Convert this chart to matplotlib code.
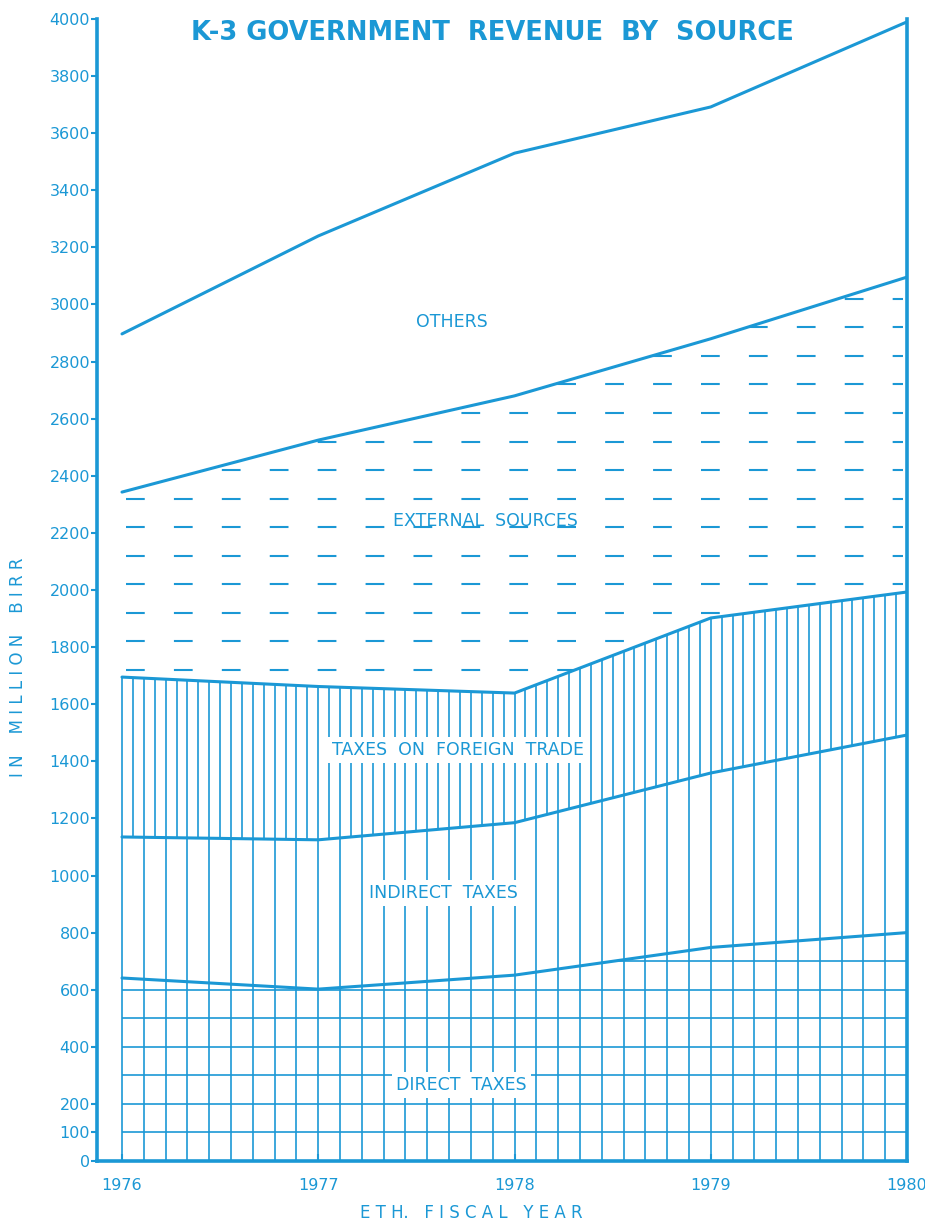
import matplotlib
matplotlib.use("Agg")
import matplotlib.pyplot as plt
from matplotlib.patches import PathPatch
import numpy as np

# data (million birr)
years    = [1976, 1977, 1978, 1979, 1980]
direct   = [641, 602, 651, 748, 800]
indirect = [494, 523, 534, 611, 692]
foreign  = [560, 537, 454, 543, 501]
external = [648, 863, 1041, 978, 1103]
others   = [554, 715, 850, 812, 894]

yticks = [0, 100, 200, 400, 600, 800, 1000, 1200, 1400, 1600, 1800, 2000,
          2200, 2400, 2600, 2800, 3000, 3200, 3400, 3600, 3800, 4000]

BLUE = "#1b98d5"
plt.rcParams.update({
    "font.family": "DejaVu Sans",
    "text.color": BLUE,
    "axes.edgecolor": BLUE,
    "xtick.color": BLUE,
    "ytick.color": BLUE,
})

tops = np.cumsum([direct, indirect, foreign, external, others], axis=0)
direct_top, indirect_top, foreign_top, external_top, others_top = tops

fig = plt.figure(figsize=(9.25, 12.26), dpi=100)
ax = fig.add_axes([97 / 925, 1 - 1161 / 1226, 810 / 925, 1142 / 1226])
ax.set_xlim(1976 - 25 / 196.25, 1980)
ax.set_ylim(0, 4000)

def band_patch(lower, upper):
    poly = ax.fill_between(years, lower, upper, facecolor="none", edgecolor="none")
    patch = PathPatch(poly.get_paths()[0], transform=ax.transData,
                      facecolor="none", edgecolor="none")
    ax.add_patch(patch)
    return patch

zero = np.zeros(len(years))
direct_clip = band_patch(zero, direct_top)
external_clip = band_patch(foreign_top, external_top)

# vertical hatching: from 0 up to top of foreign trade band
xs = np.linspace(1976, 1980, 37)
ax.vlines(xs, 0, np.interp(xs, years, foreign_top), color=BLUE, lw=1.2, zorder=2)
# extra verticals only in foreign trade band
xm = (xs[:-1] + xs[1:]) / 2
ax.vlines(xm, np.interp(xm, years, indirect_top), np.interp(xm, years, foreign_top),
          color=BLUE, lw=1.2, zorder=2)

# horizontal grid inside direct taxes
h = ax.hlines(np.arange(100, 800, 100), 1976, 1980, color=BLUE, lw=1.2, zorder=2)
h.set_clip_path(direct_clip)

# dashed rows inside external sources
d = ax.hlines(np.arange(1720, 3100, 100), 1976.02, 1979.98, color=BLUE, lw=1.5,
              linestyles=(0, (9, 14)), zorder=2)
d.set_clip_path(external_clip)

for top in tops:
    ax.plot(years, top, color=BLUE, lw=2.2, zorder=3, solid_capstyle="round")

for s in ["left", "bottom", "right"]:
    ax.spines[s].set_linewidth(2.6)
ax.spines["top"].set_visible(False)

ax.set_yticks(yticks)
ax.set_xticks(years)
ax.tick_params(axis="y", direction="out", length=4, width=1.5, pad=1, labelsize=11.5)
ax.tick_params(axis="x", direction="in", length=5, width=1.5, pad=12, labelsize=11.5)

lbl = dict(color=BLUE, fontsize=12.5, ha="center", va="center", zorder=5)
box = dict(boxstyle="square,pad=0.25", facecolor="white", edgecolor="none")
ax.text(1977.68, 2939, "OTHERS", **lbl)
ax.text(1977.85, 2240, "EXTERNAL  SOURCES", **lbl)
ax.text(1977.71, 1440, "TAXES  ON  FOREIGN  TRADE", bbox=box, **lbl)
ax.text(1977.64, 939, "INDIRECT  TAXES", bbox=box, **lbl)
ax.text(1977.73, 266, "DIRECT  TAXES", bbox=box, **lbl)

fig.text(0.532, 1 - 33 / 1226, "K-3 GOVERNMENT  REVENUE  BY  SOURCE",
         ha="center", va="center", fontsize=18.5, fontweight="bold", color=BLUE)
fig.text(18 / 925, 1 - 667 / 1226, "I N    M I L L I O N    B I R R", rotation=90,
         ha="center", va="center", fontsize=12, color=BLUE)
fig.text(471 / 925, 1 - 1213 / 1226, "E T H.   F I S C A L   Y E A R",
         ha="center", va="center", fontsize=12, color=BLUE)

fig.savefig("out.png", dpi=100, facecolor="white")
